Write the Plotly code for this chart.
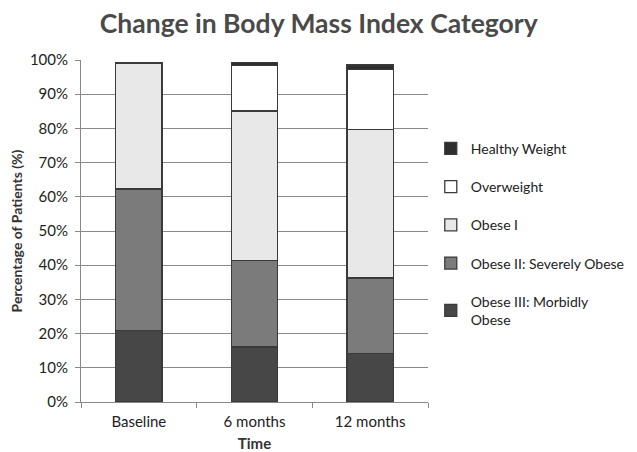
import plotly.graph_objects as go

categories = ["Baseline", "6 months", "12 months"]
morbid = [21.0, 16.1, 14.1]
severe = [41.3, 25.2, 22.2]
obese1 = [36.8, 43.8, 43.4]
overweight = [0.0, 13.2, 17.6]
healthy = [0.0, 1.0, 1.2]

series = [
    ("Obese III: Morbidly<br>Obese", morbid, "#474747"),
    ("Obese II: Severely Obese", severe, "#7b7b7b"),
    ("Obese I", obese1, "#e8e8e8"),
    ("Overweight", overweight, "#ffffff"),
    ("Healthy Weight", healthy, "#2e2e2e"),
]

fig = go.Figure()
for i, (name, vals, col) in enumerate(series):
    fig.add_trace(go.Bar(
        x=categories, y=vals, name=name, legendgroup=str(i), legendrank=10 - i,
        marker=dict(color=col, line=dict(color="#3a3a3a", width=1.3)),
    ))

font = "Lato, 'Open Sans', sans-serif"
fig.update_layout(
    barmode="stack", bargap=0.6,
    width=629, height=444,
    margin=dict(l=73, r=209, t=52, b=50, autoexpand=False),
    paper_bgcolor="white", plot_bgcolor="white",
    font=dict(family=font, size=15, color="#222"),
    title=dict(text="<b>Change in Body Mass Index Category</b>", x=0.494, xanchor="center",
               y=0.964, yanchor="middle", font=dict(size=26.5, color="#4a4a4a", family=font)),
    legend=dict(x=1.008, y=0.787, xanchor="left", yanchor="top",
                traceorder="grouped", tracegroupgap=17,
                font=dict(size=14, color="#222"), itemwidth=30),
    xaxis=dict(title=dict(text="<b>Time</b>", font=dict(size=15, color="#333"), standoff=12),
               automargin=False,
               showline=True, linecolor="#888", linewidth=1, ticks="outside",
               tickson="boundaries", ticklen=5, tickcolor="#888", showgrid=False,
               ticklabelstandoff=6),
    yaxis=dict(title=dict(text="<b>Percentage of Patients (%)</b>", font=dict(size=14, color="#333"), standoff=3),
               automargin=False,
               range=[0, 100], dtick=10, ticksuffix="%", showgrid=True, gridcolor="#8a8a8a",
               gridwidth=1, showline=True, linecolor="#888", ticks="outside", ticklen=5,
               tickcolor="#888", zeroline=False, ticklabelstandoff=4),
)
fig.write_html("out.html")
